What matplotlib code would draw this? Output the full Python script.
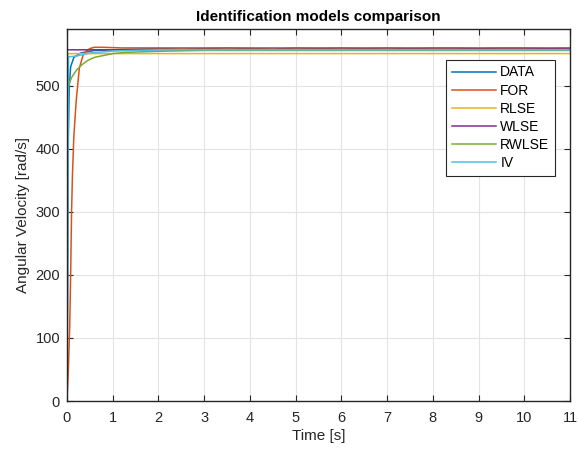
import matplotlib
matplotlib.use("Agg")
import matplotlib.pyplot as plt

plt.rcParams['font.family'] = ['Liberation Sans', 'DejaVu Sans']

# ---- data ----
t_data = [0, 0.01, 0.02, 0.03, 0.05, 0.08, 0.15, 0.3, 0.6, 1.0, 1.5, 2.0, 2.5, 3.0, 3.5, 4.0, 4.5, 5.0, 5.5,
          6.0, 6.5, 7.0, 7.5, 8.0, 8.5, 9.0, 9.5, 10.0, 10.5, 11.0]
v_data = [0, 150, 300, 420, 500, 530, 545, 552, 556, 557, 558, 559, 558, 559, 560, 559, 558, 560, 559,
          560, 559, 560, 559, 560, 560, 559, 560, 560, 559, 560]

t_for = [0, 0.03, 0.06, 0.08, 0.10, 0.12, 0.15, 0.20, 0.27, 0.35, 0.42, 0.50, 0.60, 0.80, 1.2, 11.0]
v_for = [0, 50, 120, 200, 300, 360, 420, 475, 528, 548, 555, 559, 561, 561, 560, 560]

t_rlse = [0, 0.005, 0.01, 0.015, 0.02, 11.0]
v_rlse = [0, 120, 300, 480, 551, 551]

t_wlse = [0, 11.0]
v_wlse = [557, 558]

t_rwlse = [0, 0.1, 0.2, 0.32, 0.45, 0.6, 0.8, 1.0, 1.3, 1.7, 2.2, 3.0, 4.0, 11.0]
v_rwlse = [494, 513, 524, 533, 540, 545, 548, 551, 553, 554, 555, 556, 556, 556]

t_iv = [0, 0.01, 0.02, 0.03, 0.035, 0.2, 0.5, 1.0, 2.0, 11.0]
v_iv = [0, 120, 300, 480, 546, 547, 552, 555, 557, 557]

series = [("DATA", t_data, v_data, "#0072BD"),
          ("FOR", t_for, v_for, "#D95319"),
          ("RLSE", t_rlse, v_rlse, "#EDB120"),
          ("WLSE", t_wlse, v_wlse, "#7E2F8E"),
          ("RWLSE", t_rwlse, v_rwlse, "#77AC30"),
          ("IV", t_iv, v_iv, "#4DBEEE")]

x_ticks = list(range(0, 12))
y_ticks = [0, 100, 200, 300, 400, 500]

fig = plt.figure(figsize=(5.79, 4.49), dpi=100)
ax = fig.add_axes([0.1157, 0.1069, 0.8688, 0.8285])

for name, t, v, c in series:
    ax.plot(t, v, color=c, lw=1.1, label=name)

ax.set_xlim(0, 11)
ax.set_ylim(0, 590)
ax.set_xticks(x_ticks)
ax.set_yticks(y_ticks)
ax.grid(True, color="#e3e3e3", lw=0.8)
ax.set_axisbelow(True)
ax.tick_params(direction='in', length=4, width=0.8, top=True, right=True,
               labelsize=10.5, colors='#262626')
ax.tick_params(axis='x', pad=7)
ax.tick_params(axis='y', pad=5)
for s in ax.spines.values():
    s.set_color('#262626')
    s.set_linewidth(1.0)

ax.set_xlabel("Time [s]", fontsize=11, color='#262626', labelpad=3)
ax.set_ylabel("Angular Velocity [rad/s]", fontsize=11, color='#262626', labelpad=4)
ax.set_title("Identification models comparison", fontsize=11, fontweight='bold', pad=6)

leg = ax.legend(loc='upper right', bbox_to_anchor=(0.970, 0.917), fancybox=False,
                framealpha=1, edgecolor='#262626', fontsize=10, handlelength=3.2,
                handletextpad=0.3, labelspacing=0.3, borderpad=0.4, borderaxespad=0)
leg.get_frame().set_linewidth(0.8)

fig.savefig("out.png", dpi=100)
